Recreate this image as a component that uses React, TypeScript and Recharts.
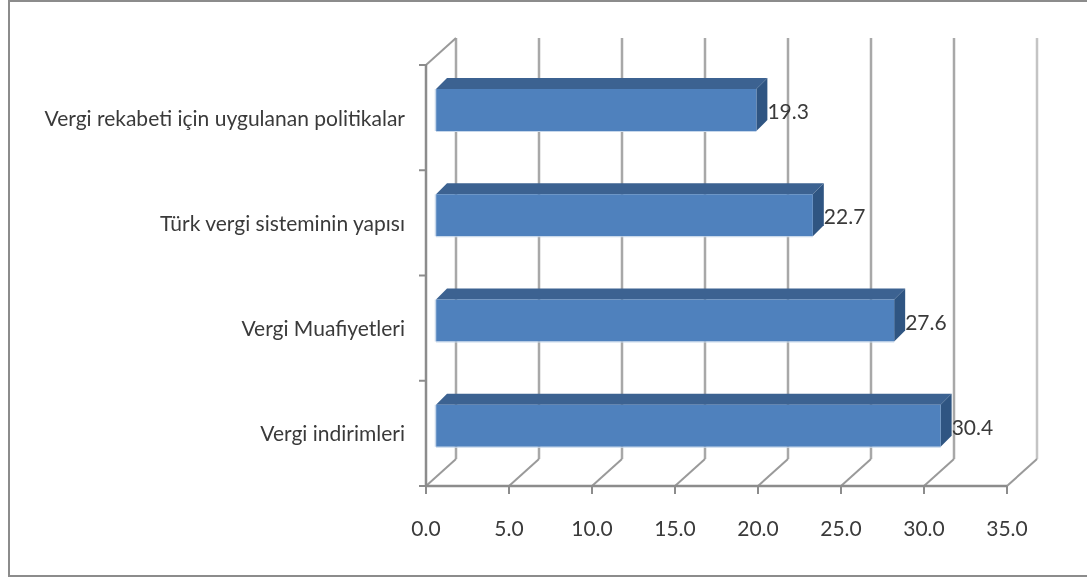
import React from "react";
import { BarChart, Bar, XAxis, YAxis, CartesianGrid, LabelList } from "recharts";

const categories = [
  "Vergi rekabeti için uygulanan politikalar",
  "Türk vergi sisteminin yapısı",
  "Vergi Muafiyetleri",
  "Vergi indirimleri",
];
const values = [19.3, 22.7, 27.6, 30.4];
const xTicks = [0, 5, 10, 15, 20, 25, 30, 35];
const rows = categories.map((name, i) => ({ name, value: values[i] }));

const FONT = "Lato, 'Open Sans', sans-serif";
const TEXT = "#3a3a3a";
const DX = 10;
const DY = -8;
const DEPTH = 11;
const WALL_X = 30;
const WALL_Y = 27;
const BAND = 105.25;

const BarShape = (p: any) => {
  const x = p.x + DX;
  const y = p.y + DY;
  const w = p.width;
  const h = p.height;
  const r = x + w;
  const b = y + h;
  return (
    <g>
      <polygon points={`${x},${y} ${x + DEPTH},${y - DEPTH} ${r + DEPTH},${y - DEPTH} ${r},${y}`} fill="#3c6291" />
      <polygon points={`${r},${y} ${r + DEPTH},${y - DEPTH} ${r + DEPTH},${b - DEPTH} ${r},${b}`} fill="#2f5582" />
      <rect x={x} y={y} width={w} height={h} fill="#4f81bd" />
      <line x1={x - 0.5} y1={y} x2={x - 0.5} y2={b} stroke="#c6d7eb" strokeWidth={1.5} />
      <line x1={x} y1={b + 0.5} x2={r} y2={b + 0.5} stroke="#c6d7eb" strokeWidth={1} />
    </g>
  );
};

const GridLine = (p: any) => {
  const { x1, y1, y2, index } = p;
  const last = index === xTicks.length - 1;
  const color = last ? "#c4c4c4" : "#a8a8a8";
  return (
    <g key={`grid-${index}`}>
      <line x1={x1 + WALL_X} y1={y1 - WALL_Y} x2={x1 + WALL_X} y2={y2 - WALL_Y} stroke={color} strokeWidth={2.5} />
      <line x1={x1} y1={y2} x2={x1 + WALL_X} y2={y2 - WALL_Y} stroke="#9a9a9a" strokeWidth={2} />
      {index === 0 && (
        <line x1={x1} y1={y1} x2={x1 + WALL_X} y2={y1 - WALL_Y} stroke="#9a9a9a" strokeWidth={2} />
      )}
    </g>
  );
};

const CategoryTick = (p: any) => {
  const { x, y, payload, index } = p;
  return (
    <g>
      <line x1={x + 1} y1={y - BAND / 2} x2={x + 9} y2={y - BAND / 2} stroke="#8c8c8c" strokeWidth={2} />
      {index === categories.length - 1 && (
        <line x1={x + 1} y1={y + BAND / 2} x2={x + 9} y2={y + BAND / 2} stroke="#8c8c8c" strokeWidth={2} />
      )}
      <text x={x - 13} y={y + 1} dy={7} textAnchor="end" fontFamily={FONT} fontSize={21} fill={TEXT}>
        {payload.value}
      </text>
    </g>
  );
};

const ValueLabel = (p: any) => {
  const { x, y, width, height, value } = p;
  return (
    <text x={x + width + DX + 11} y={y + height / 2 + DY + 9} fontFamily={FONT} fontSize={21} fill={TEXT}>
      {Number(value).toFixed(1)}
    </text>
  );
};

export default function App() {
  return (
    <div style={{ position: "absolute", left: 0, top: 0, width: 1087, height: 577, overflow: "hidden", background: "#fff" }}>
      <div style={{ position: "absolute", left: 8, top: 0, width: 1079, height: 577, boxSizing: "border-box", border: "2px solid #8c8c8c", borderRight: "none" }} />
      <div style={{ position: "absolute", left: 0, top: 0, filter: "blur(0.4px)" }}>
        <BarChart
          width={1087}
          height={577}
          layout="vertical"
          data={rows}
          margin={{ left: 0, right: 80, top: 65, bottom: 0 }}
          barSize={42}
        >
          <CartesianGrid horizontal={false} vertical={GridLine as any} />
          <XAxis
            type="number"
            dataKey="value"
            domain={[0, 35]}
            ticks={xTicks}
            interval={0}
            height={91}
            tickFormatter={(v: number) => v.toFixed(1)}
            stroke="#8c8c8c"
            strokeWidth={2.5}
            tickSize={8}
            tickMargin={27}
            tick={{ fontFamily: FONT, fontSize: 21, fill: TEXT }}
            tickLine={{ stroke: "#8c8c8c", strokeWidth: 2 }}
          />
          <YAxis
            type="category"
            dataKey="name"
            width={426}
            interval={0}
            stroke="#8c8c8c"
            strokeWidth={2.5}
            tickLine={false}
            tick={<CategoryTick />}
          />
          <Bar dataKey="value" shape={BarShape as any} isAnimationActive={false}>
            <LabelList dataKey="value" content={ValueLabel as any} />
          </Bar>
        </BarChart>
      </div>
    </div>
  );
}
